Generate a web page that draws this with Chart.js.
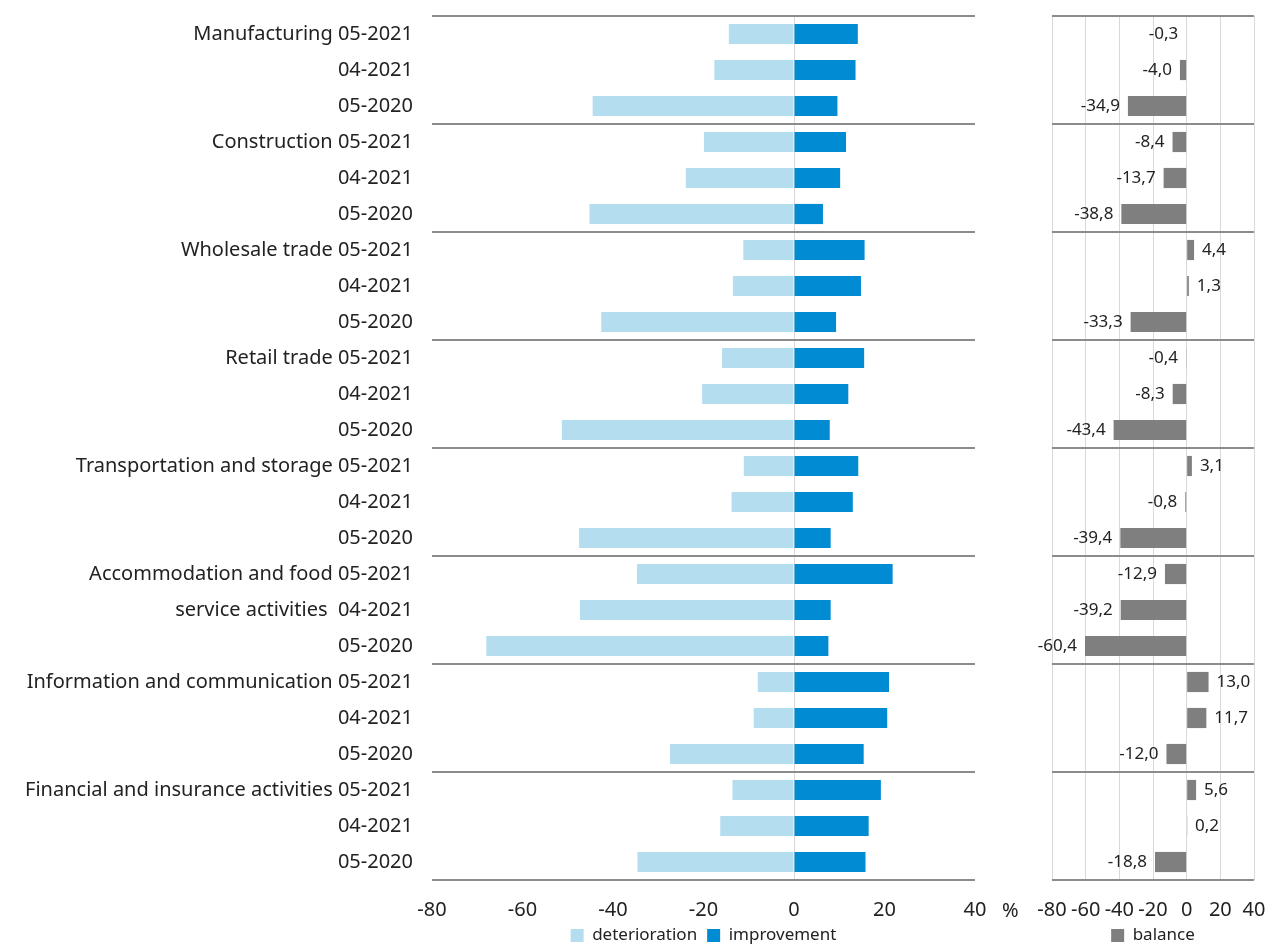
<!DOCTYPE html>
<html>
<head>
<meta charset="utf-8">
<script src="https://cdn.jsdelivr.net/npm/chart.js@4"></script>
<style>
    body { margin: 0; background: #fff; font-family: "Noto Sans", sans-serif; }
    #wrap { position: relative; width: 1266px; height: 947px; }
    #mainChart { position: absolute; left: 0; top: 0; }
    #balanceChart { position: absolute; left: 1020px; top: 0; }
    #unit { position: absolute; left: 1002px; top: 896px; font-size: 20px; color: #222; }
</style>
</head>
<body>
<div id="wrap">
    <canvas id="mainChart" width="1040" height="947"></canvas>
    <canvas id="balanceChart" width="246" height="947"></canvas>
    <div id="unit">%</div>
</div>
<script>
const categories = [
    'Manufacturing 05-2021', '04-2021', '05-2020',
    'Construction 05-2021', '04-2021', '05-2020',
    'Wholesale trade 05-2021', '04-2021', '05-2020',
    'Retail trade 05-2021', '04-2021', '05-2020',
    'Transportation and storage 05-2021', '04-2021', '05-2020',
    'Accommodation and food 05-2021', 'service activities  04-2021', '05-2020',
    'Information and communication 05-2021', '04-2021', '05-2020',
    'Financial and insurance activities 05-2021', '04-2021', '05-2020'
];
const deterioration = [-14.4, -17.6, -44.5, -19.9, -23.9, -45.2, -11.2, -13.5, -42.6, -15.9, -20.3, -51.3,
    -11.1, -13.8, -47.5, -34.7, -47.3, -68.0, -8.0, -8.9, -27.4, -13.6, -16.3, -34.6];
const improvement = [14.1, 13.6, 9.6, 11.5, 10.2, 6.4, 15.6, 14.8, 9.3, 15.5, 12.0, 7.9,
    14.2, 13.0, 8.1, 21.8, 8.1, 7.6, 21.0, 20.6, 15.4, 19.2, 16.5, 15.8];
const balance = [-0.3, -4.0, -34.9, -8.4, -13.7, -38.8, 4.4, 1.3, -33.3, -0.4, -8.3, -43.4,
    3.1, -0.8, -39.4, -12.9, -39.2, -60.4, 13.0, 11.7, -12.0, 5.6, 0.2, -18.8];
const xTicks = [-80, -60, -40, -20, 0, 20, 40];

Chart.defaults.font.family = '"Noto Sans", sans-serif';

const textColor = '#222';
const sepColor = '#8c8c8c';
const gridColor = '#d9d9d9';

// separator after every group of three rows (plus the closing line at the bottom)
const groupLine = c => (c.index === undefined || c.index % 3 === 0) ? sepColor : 'rgba(0,0,0,0)';

const legendOpts = {
    position: 'bottom',
    fullSize: false,
    maxHeight: 30,
    labels: { boxWidth: 13, boxHeight: 13, color: textColor, font: { size: 17 }, padding: 10 }
};

const xScale = (extra) => Object.assign({
    stacked: true,
    min: xTicks[0],
    max: xTicks[xTicks.length - 1],
    afterBuildTicks: s => { s.ticks = xTicks.map(v => ({ value: v })); },
    ticks: { color: textColor, font: { size: 20 }, padding: 18, autoSkip: false, maxRotation: 0 },
    border: { display: false }
}, extra);

new Chart(document.getElementById('mainChart'), {
    type: 'bar',
    data: {
        labels: categories,
        datasets: [{
            label: 'deterioration',
            data: deterioration,
            backgroundColor: '#b5ddf0',
            barPercentage: 0.56,
            categoryPercentage: 1
        }, {
            label: 'improvement',
            data: improvement,
            backgroundColor: '#008bd2',
            barPercentage: 0.56,
            categoryPercentage: 1
        }]
    },
    options: {
        indexAxis: 'y',
        responsive: false,
        animation: false,
        layout: { padding: { top: 16, right: 65, left: 0, bottom: 0 } },
        scales: {
            x: xScale({
                grid: { color: c => (c.tick && c.tick.value === 0) ? gridColor : 'rgba(0,0,0,0)', drawTicks: false },
                afterFit: s => { s.height = 37; }
            }),
            y: {
                stacked: true,
                grid: { offset: true, color: groupLine, lineWidth: 2, drawTicks: false },
                border: { display: false },
                ticks: { color: textColor, font: { size: 20 }, padding: 19, autoSkip: false },
                afterFit: s => { s.width = 432; s.paddingTop = 0; s.paddingBottom = 0; }
            }
        },
        plugins: {
            legend: legendOpts,
            tooltip: { enabled: false }
        }
    }
});

const valueLabels = {
    id: 'valueLabels',
    afterDatasetsDraw(chart) {
        const ctx = chart.ctx;
        const meta = chart.getDatasetMeta(0);
        ctx.save();
        ctx.font = '17px "Noto Sans"';
        ctx.fillStyle = textColor;
        ctx.textBaseline = 'middle';
        meta.data.forEach((bar, i) => {
            const v = balance[i];
            const txt = v.toFixed(1).replace('.', ',');
            if (v < 0) {
                ctx.textAlign = 'right';
                ctx.fillText(txt, bar.x - 8, bar.y);
            } else {
                ctx.textAlign = 'left';
                ctx.fillText(txt, bar.x + 8, bar.y);
            }
        });
        ctx.restore();
    }
};

new Chart(document.getElementById('balanceChart'), {
    type: 'bar',
    data: {
        labels: categories,
        datasets: [{
            label: 'balance',
            data: balance,
            backgroundColor: '#7f7f7f',
            barPercentage: 0.56,
            categoryPercentage: 1
        }]
    },
    options: {
        indexAxis: 'y',
        responsive: false,
        animation: false,
        layout: { padding: { top: 16, right: 12, left: 32, bottom: 0 } },
        scales: {
            x: xScale({
                grid: { color: gridColor, drawTicks: false },
                afterFit: s => { s.height = 37; s.paddingLeft = 0; s.paddingRight = 0; }
            }),
            y: {
                grid: { offset: true, color: groupLine, lineWidth: 2, drawTicks: false },
                border: { display: false },
                ticks: { display: false },
                afterFit: s => { s.width = 0; }
            }
        },
        plugins: {
            legend: legendOpts,
            tooltip: { enabled: false }
        }
    },
    plugins: [valueLabels]
});
</script>
</body>
</html>
